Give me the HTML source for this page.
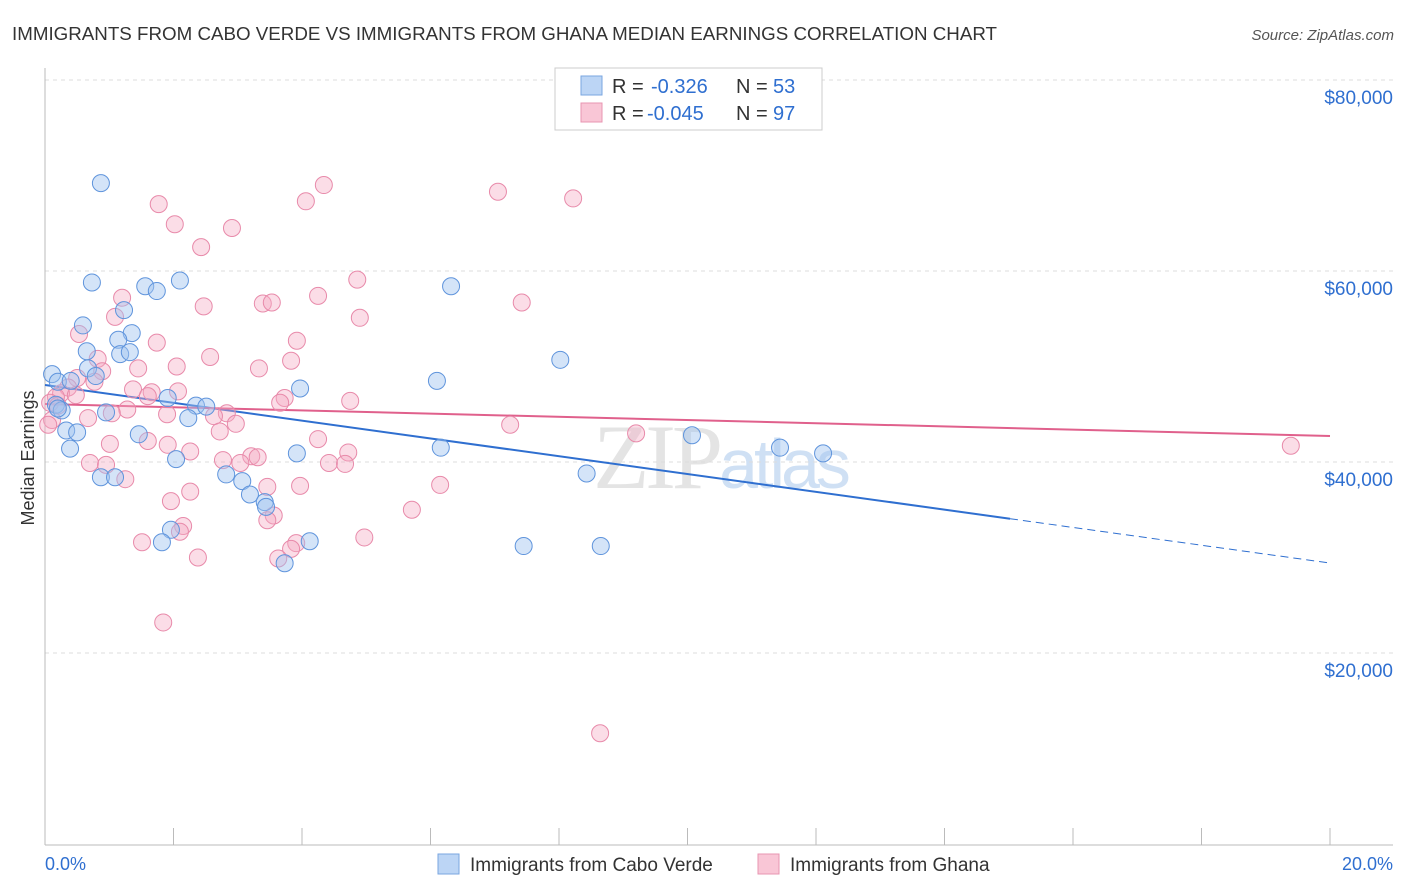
<!DOCTYPE html>
<html><head><meta charset="utf-8"><style>
body{margin:0;background:#fff;font-family:"Liberation Sans",sans-serif;}
svg{display:block}
</style></head><body>
<svg id="chart" width="1406" height="892" xmlns="http://www.w3.org/2000/svg" font-family="Liberation Sans, sans-serif">
<text x="12" y="40" font-size="18.5" fill="#333" textLength="985" lengthAdjust="spacingAndGlyphs">IMMIGRANTS FROM CABO VERDE VS IMMIGRANTS FROM GHANA MEDIAN EARNINGS CORRELATION CHART</text>
<text x="1394" y="40" font-size="15" fill="#555" text-anchor="end" font-style="italic">Source: ZipAtlas.com</text>
<text x="720" y="488" font-size="92" fill="#e4e4e4" text-anchor="middle" font-family="Liberation Serif, serif" letter-spacing="-4">ZIP<tspan fill="#cfe0f4" font-family="Liberation Sans, sans-serif" font-size="70">atlas</tspan></text>
<g id="grid"></g><g id="axes"></g><g id="trends"></g><g id="pts"></g>
<g>
<rect x="555" y="68" width="267" height="62" fill="#fff" stroke="#ccc"/>
<rect x="581" y="76" width="21" height="19" fill="#bcd5f5" stroke="#7aa6e0"/>
<rect x="581" y="103" width="21" height="19" fill="#f9c6d6" stroke="#e895b1"/>
<text x="612" y="93" font-size="20" fill="#333">R =</text>
<text x="651" y="93" font-size="20" fill="#2f6fd0">-0.326</text>
<text x="736" y="93" font-size="20" fill="#333">N =</text>
<text x="773" y="93" font-size="20" fill="#2f6fd0">53</text>
<text x="612" y="120" font-size="20" fill="#333">R =</text>
<text x="647" y="120" font-size="20" fill="#2f6fd0">-0.045</text>
<text x="736" y="120" font-size="20" fill="#333">N =</text>
<text x="773" y="120" font-size="20" fill="#2f6fd0">97</text>
</g>
<text transform="translate(34,458) rotate(-90)" font-size="18" fill="#333" text-anchor="middle">Median Earnings</text>
<text x="45" y="870" font-size="18" fill="#2f6fd0">0.0%</text>
<text x="1393" y="870" font-size="18" fill="#2f6fd0" text-anchor="end">20.0%</text>
<g>
<rect x="438" y="854" width="21" height="20" fill="#bcd5f5" stroke="#7aa6e0"/>
<text x="470" y="871" font-size="19" fill="#333">Immigrants from Cabo Verde</text>
<rect x="758" y="854" width="21" height="20" fill="#f9c6d6" stroke="#e895b1"/>
<text x="790" y="871" font-size="19" fill="#333">Immigrants from Ghana</text>
</g>
</svg>
<script>
const yTicks=[20000,40000,60000,80000];
const yTickLabels=["$20,000","$40,000","$60,000","$80,000"];
const xTicks=[0,2,4,6,8,10,12,14,16,18,20];
const blueX=[0.87,0.73,1.56,1.74,2.10,6.32,0.59,1.23,1.35,1.14,0.65,1.17,1.32,8.02,0.11,0.67,0.79,0.20,0.40,6.10,3.97,1.91,2.35,2.51,0.17,0.26,0.95,2.23,0.33,0.50,1.46,10.07,0.39,6.16,11.44,12.11,2.04,3.92,8.43,0.87,1.09,2.82,3.07,3.19,3.42,3.44,1.96,1.82,4.12,7.45,8.65,3.73,0.20];
const blueY=[69200,58800,58400,57900,59000,58400,54300,55900,53500,52800,51600,51300,51500,50700,49200,49800,49000,48400,48500,48500,47700,46700,45900,45800,46000,45400,45200,44600,43300,43100,42900,42800,41400,41500,41500,40900,40300,40900,38800,38400,38400,38700,38000,36600,35800,35300,32900,31600,31700,31200,31200,29400,45600];
const pinkX=[4.34,4.06,7.05,8.22,1.77,2.02,2.91,2.43,4.86,1.20,4.25,7.42,2.47,3.39,3.53,4.90,1.09,0.53,1.74,3.92,2.57,0.82,3.83,2.05,3.33,1.45,0.89,0.50,0.77,0.36,1.37,1.66,2.07,0.25,0.48,0.17,1.60,4.75,3.73,3.66,0.08,0.20,1.28,1.04,1.90,2.83,2.63,0.67,0.11,2.97,7.24,2.72,1.60,4.25,1.01,1.91,2.26,4.72,3.21,3.31,2.77,3.04,4.42,4.67,0.70,0.95,9.20,19.39,1.25,6.15,3.97,3.46,2.26,1.96,5.71,3.56,3.46,2.15,2.10,4.97,1.51,3.91,3.83,3.63,2.38,1.84,8.64,0.05];
const pinkY=[69000,67300,68300,67600,67000,64900,64500,62500,59100,57200,57400,56700,56300,56600,56700,55100,55200,53400,52500,52700,51000,50800,50600,50000,49800,49800,49500,48800,48400,47800,47600,47300,47400,47200,47000,46800,46900,46400,46700,46200,46200,45900,45500,45100,45000,45100,44800,44600,44400,44000,43900,43200,42200,42400,41900,41800,41100,41000,40600,40500,40200,39900,39900,39800,39900,39700,43000,41700,38200,37600,37500,37400,36900,35900,35000,34400,33900,33300,32700,32100,31600,31500,30900,29900,30000,23200,11600,43900];
const blueTrend=[48060,29420]; const blueSolidEnd=15.02;
const pinkTrend=[46070,42720];
const NS="http://www.w3.org/2000/svg";
const X=v=>45+v/20*1285, Y=v=>844-v/20000*191;
function mk(t,a,p){const e=document.createElementNS(NS,t);for(const k in a)e.setAttribute(k,a[k]);p.appendChild(e);return e;}
const grid=document.getElementById('grid'),axes=document.getElementById('axes'),tr=document.getElementById('trends'),pts=document.getElementById('pts');
yTicks.forEach((t,i)=>{
 const l=mk('line',{x1:45,x2:1393,y1:Y(t),y2:Y(t),stroke:'#ddd','stroke-dasharray':'4,4'},grid);
 
 
 const tx=mk('text',{x:1393,y:Y(t)+24,'font-size':19,fill:'#2f6fd0','text-anchor':'end'},grid);
 tx.textContent=yTickLabels[i];
 
 
});
const ya=mk('line',{x1:45,x2:45,y1:68,y2:845,stroke:'#bbb'},axes);


const xa=mk('line',{x1:45,x2:1393,y1:845,y2:845,stroke:'#bbb'},axes);


xTicks.forEach(t=>{const k=mk('line',{x1:X(t),x2:X(t),y1:828,y2:845,stroke:'#bbb'},axes);
 
 });
function trendAt(tt,x){return tt[0]+(tt[1]-tt[0])*x/20;}
const b1=mk('line',{x1:X(0),y1:Y(blueTrend[0]),x2:X(blueSolidEnd),y2:Y(trendAt(blueTrend,blueSolidEnd)),stroke:'#2f6fd0','stroke-width':2},tr);


const b2=mk('line',{x1:X(blueSolidEnd),y1:Y(trendAt(blueTrend,blueSolidEnd)),x2:X(20),y2:Y(blueTrend[1]),stroke:'#2f6fd0','stroke-width':1,'stroke-dasharray':'8,5'},tr);


const p1=mk('line',{x1:X(0),y1:Y(pinkTrend[0]),x2:X(20),y2:Y(pinkTrend[1]),stroke:'#e0608c','stroke-width':2},tr);


pinkX.forEach((x,i)=>{const c=mk('circle',{cx:X(x),cy:Y(pinkY[i]),r:8.5,fill:'rgba(245,170,195,0.4)',stroke:'#e88aaa','stroke-width':1},pts);
 
 });
blueX.forEach((x,i)=>{const c=mk('circle',{cx:X(x),cy:Y(blueY[i]),r:8.5,fill:'rgba(160,195,240,0.45)',stroke:'#5f94dc','stroke-width':1},pts);
 
 });
</script>
</body></html>
